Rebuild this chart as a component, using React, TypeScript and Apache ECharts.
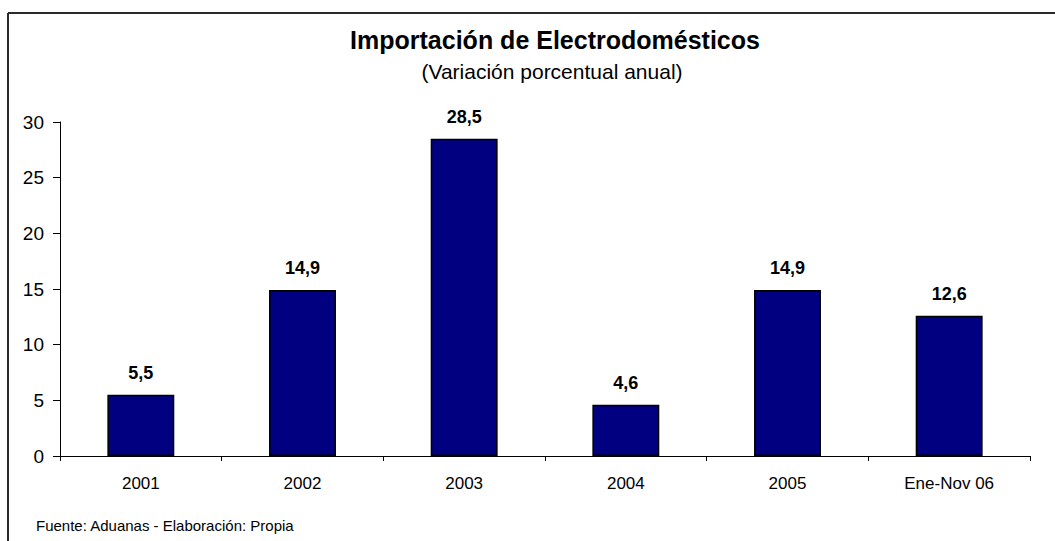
import React, { useEffect, useRef } from "react";
import * as echarts from "echarts";

const categories = ["2001", "2002", "2003", "2004", "2005", "Ene-Nov 06"];
const values = [5.5, 14.9, 28.5, 4.6, 14.9, 12.6];
const yTicks = { min: 0, max: 30, interval: 5 };
const titleText = "Importación de Electrodomésticos";
const subtitleText = "(Variación porcentual anual)";
const footerText = "Fuente: Aduanas - Elaboración: Propia";

const FONT = "'Liberation Sans', Arial, sans-serif";

export default function App() {
  const ref = useRef<HTMLDivElement>(null);
  useEffect(() => {
    document.body.style.margin = "0";
    document.body.style.overflow = "hidden";
    const chart = echarts.init(ref.current!, null, { renderer: "svg" });
    chart.setOption({
      animation: false,
      backgroundColor: "#ffffff",
      textStyle: { fontFamily: FONT },
      grid: { left: 60, right: 25, top: 122, bottom: 85, containLabel: false },
      xAxis: {
        type: "category",
        data: categories,
        axisLine: { lineStyle: { color: "#000", width: 1 } },
        axisTick: { show: true, length: 5, interval: 0, alignWithLabel: false, lineStyle: { color: "#000" } },
        axisLabel: { color: "#000", fontSize: 17, margin: 19, interval: 0, fontFamily: FONT },
        splitLine: { show: false },
      },
      yAxis: {
        type: "value",
        min: yTicks.min,
        max: yTicks.max,
        interval: yTicks.interval,
        axisLine: { show: true, lineStyle: { color: "#000", width: 1 } },
        axisTick: { show: true, length: 7, lineStyle: { color: "#000" } },
        axisLabel: { color: "#000", fontSize: 19, margin: 16, fontFamily: FONT },
        splitLine: { show: false },
      },
      series: [
        {
          type: "bar",
          data: values,
          barWidth: "41.4%",
          itemStyle: { color: "#000080", borderColor: "#000", borderWidth: 1.5 },
          label: {
            show: true,
            position: "top",
            distance: 13,
            color: "#000",
            fontSize: 18,
            fontWeight: "bold",
            fontFamily: FONT,
            formatter: (p: any) => String(p.value.toFixed(1)).replace(".", ","),
          },
        },
      ],
      graphic: [
        {
          type: "line",
          shape: { x1: 8, y1: 13, x2: 1055, y2: 13 },
          style: { stroke: "#2a2a2a", lineWidth: 2 },
        },
        {
          type: "line",
          shape: { x1: 8, y1: 13, x2: 8, y2: 541 },
          style: { stroke: "#2a2a2a", lineWidth: 2 },
        },
        {
          type: "text",
          x: 555,
          y: 40,
          style: {
            text: titleText,
            fill: "#000",
            font: `bold 25px ${FONT}`,
            textAlign: "center",
            textVerticalAlign: "middle",
          },
        },
        {
          type: "text",
          x: 552,
          y: 71,
          style: {
            text: subtitleText,
            fill: "#000",
            font: `21px ${FONT}`,
            textAlign: "center",
            textVerticalAlign: "middle",
          },
        },
        {
          type: "text",
          x: 36,
          y: 525,
          style: {
            text: footerText,
            fill: "#000",
            font: `15px ${FONT}`,
            textAlign: "left",
            textVerticalAlign: "middle",
          },
        },
      ],
    });
    return () => chart.dispose();
  }, []);
  return <div ref={ref} style={{ width: 1055, height: 541 }} />;
}
